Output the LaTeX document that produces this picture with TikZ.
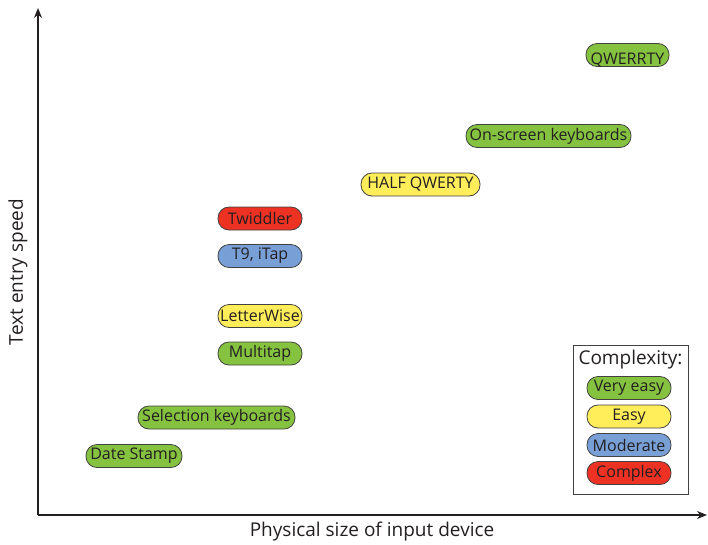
\documentclass[tikz,border=0pt]{standalone}
\usepackage{fontspec}
\setmainfont{Open Sans}
\usetikzlibrary{arrows.meta}
\definecolor{vgreen}{RGB}{133,194,64}
\definecolor{vyellow}{RGB}{255,238,90}
\definecolor{vblue}{RGB}{120,160,214}
\definecolor{vred}{RGB}{237,50,36}
\definecolor{ink}{RGB}{35,31,32}
\begin{document}
\begin{tikzpicture}[x=1pt,y=-1pt,
  pill/.style={draw=ink!85, line width=0.8pt, rounded corners=11pt, minimum height=23pt, inner sep=0pt, text=ink, font=\fontsize{16}{18}\selectfont},
  easy1/.style={pill, fill=vgreen},
  easy2/.style={pill, fill=vyellow},
  mod/.style={pill, fill=vblue},
  cplx/.style={pill, fill=vred},
  axis/.style={draw=ink, line width=1.4pt, -{Stealth[length=10pt,width=8pt]}},
  lbl/.style={text=ink, font=\fontsize{19}{21}\selectfont}]
\useasboundingbox (0,0) rectangle (708,544);
\coordinate (o) at (38,515);
\coordinate (ytop) at (38,8);
\coordinate (xend) at (707,515);
\draw[axis] (o) -- (ytop);
\draw[axis] (o) -- (xend);
\node[lbl] (xl) at (372,532) {Physical size of input device};
\node[lbl, rotate=90] (yl) at (18,272) {Text entry speed};

\node[easy1, minimum width=83pt] (qw) at (627.5,55) {\raisebox{-5pt}[\height][\depth]{QWERRTY}};
\node[easy1, minimum width=165pt] (os) at (548.5,136) {On-screen keyboards};
\node[easy2, minimum width=119pt] (hq) at (420.5,184.5) {HALF QWERTY};
\node[cplx, minimum width=84pt] (tw) at (260,218.5) {Twiddler};
\node[mod, minimum width=84pt] (t9) at (260,256) {T9, iTap};
\node[easy2, minimum width=84pt] (lw) at (260,316) {LetterWise};
\node[easy1, minimum width=84pt] (mt) at (260,353.5) {Multitap};
\node[easy1, minimum width=157pt] (sk) at (216.5,417.5) {Selection keyboards};
\node[easy1, minimum width=96pt] (ds) at (134,456) {Date Stamp};

\node[draw=ink!85, line width=1pt, minimum width=115pt, minimum height=149pt, inner sep=0pt] (leg) at (630.5,419.5) {};
\node[lbl] (lt) at (630.5,360) {Complexity:};
\node[easy1, minimum width=84pt] (l1) at (629,388) {Very easy};
\node[easy2, minimum width=84pt] (l2) at (629,416.5) {Easy};
\node[mod, minimum width=84pt] (l3) at (629,445) {Moderate};
\node[cplx, minimum width=84pt] (l4) at (629,473) {Complex};
\end{tikzpicture}
\end{document}
